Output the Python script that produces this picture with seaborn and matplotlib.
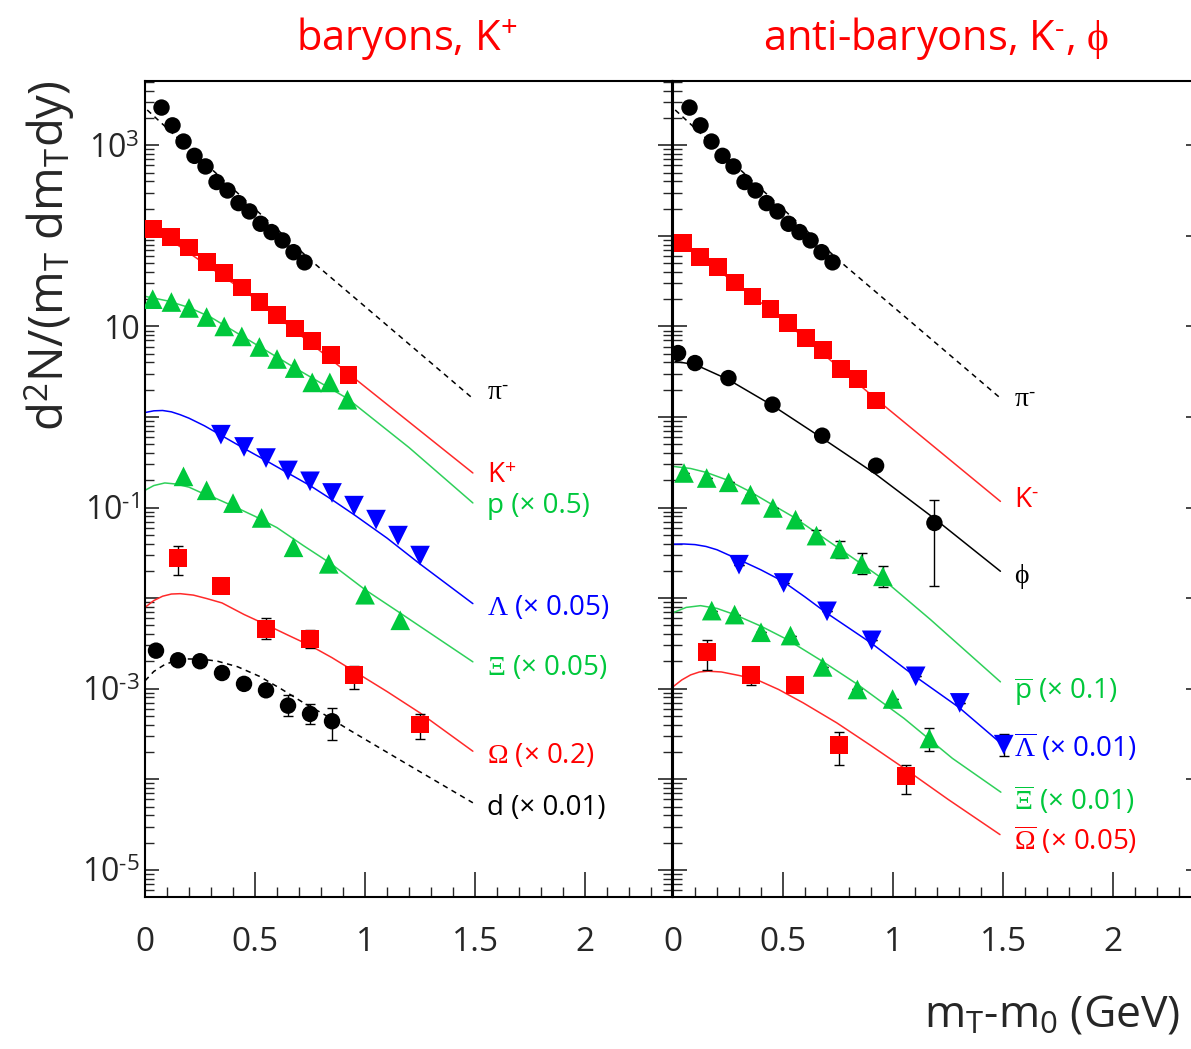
"""Transverse mass spectra: baryons / anti-baryons with blast-wave curves."""

import matplotlib

matplotlib.use("Agg")
import matplotlib.pyplot as plt
import numpy as np
import seaborn as sns
from matplotlib.ticker import (
    FixedLocator,
    FuncFormatter,
    LogLocator,
    MultipleLocator,
    NullFormatter,
)

# --------------------------------------------------------------------------- #
# Data
# --------------------------------------------------------------------------- #

# pi- (same in both panels)
pim_x = [0.075, 0.125, 0.175, 0.225, 0.275, 0.325, 0.375, 0.425, 0.475, 0.525, 0.575, 0.625, 0.675, 0.725]
pim_y = [2610, 1660, 1100, 765, 584, 393, 317, 230, 186, 136, 110, 89, 66, 51]
pim_fit_x = [0.01, 0.76, 1.49]
pim_fit_y = [2455, 52, 1.6]

# left panel
kp_x = [0.035, 0.12, 0.2, 0.28, 0.36, 0.44, 0.52, 0.60, 0.68, 0.76, 0.845, 0.925]
kp_y = [120, 98, 74.5, 52, 38.8, 26.9, 18.6, 13.5, 9.5, 6.95, 4.79, 2.93]
kp_fit_x = [0.03, 0.48, 0.93, 1.49]
kp_fit_y = [125, 22, 2.95, 0.241]

p_x = [0.035, 0.12, 0.2, 0.28, 0.36, 0.44, 0.52, 0.60, 0.68, 0.76, 0.84, 0.92]
p_y = [20, 18.6, 16, 12.7, 10, 7.76, 5.93, 4.37, 3.47, 2.41, 2.41, 1.55]
p_fit_x = [0.0, 0.1, 0.2, 0.3, 0.4, 0.52, 0.68, 0.92, 1.2, 1.49]
p_fit_y = [21.5, 19.2, 16.2, 12.6, 9.0, 6.0, 3.5, 1.6, 0.46, 0.1125]

lam_x = [0.345, 0.45, 0.55, 0.65, 0.75, 0.85, 0.95, 1.05, 1.15, 1.25]
lam_y = [0.638, 0.467, 0.352, 0.257, 0.195, 0.145, 0.105, 0.0736, 0.049, 0.0295]
lam_fit_x = [0.0, 0.04, 0.08, 0.12, 0.16, 0.2, 0.27, 0.35, 0.45, 0.55, 0.65, 0.75, 0.85, 0.95, 1.1, 1.25, 1.49]
lam_fit_y = [1.12, 1.17, 1.18, 1.14, 1.06, 0.97, 0.8, 0.62, 0.45, 0.33, 0.24, 0.175, 0.122, 0.0835, 0.046,
             0.0238, 0.0087]

xi_x = [0.175, 0.28, 0.4, 0.53, 0.675, 0.835, 1.0, 1.16]
xi_y = [0.221, 0.155, 0.112, 0.0768, 0.0364, 0.0239, 0.0109, 0.00569]
xi_fit_x = [0.0, 0.04, 0.09, 0.14, 0.2, 0.25, 0.32, 0.4, 0.5, 0.6, 0.72, 0.84, 1.0, 1.15, 1.49]
xi_fit_y = [0.155, 0.175, 0.187, 0.182, 0.168, 0.148, 0.127, 0.104, 0.08, 0.06, 0.038, 0.0245, 0.0124,
            0.0071, 0.00198]

om_x = [0.15, 0.345, 0.55, 0.75, 0.95, 1.25]
om_y = [0.0278, 0.01374, 0.0046, 0.00355, 0.00141, 0.000402]
om_lo = [0.0178, 0.0128, 0.0035, 0.0028, 0.000995, 0.000279]
om_hi = [0.038, 0.0148, 0.006, 0.0044, 0.0018, 0.00052]
om_fit_x = [0.0, 0.04, 0.08, 0.12, 0.16, 0.22, 0.28, 0.35, 0.45, 0.55, 0.65, 0.75, 0.85, 0.95, 1.1, 1.25, 1.49]
om_fit_y = [0.0079, 0.0094, 0.0105, 0.0111, 0.0112, 0.0108, 0.0099, 0.00885, 0.0066, 0.0051, 0.0039,
            0.0030, 0.0022, 0.00156, 0.00093, 0.00054, 0.000204]

d_x = [0.05, 0.15, 0.25, 0.35, 0.45, 0.55, 0.65, 0.75, 0.85]
d_y = [0.00263, 0.00206, 0.00201, 0.00149, 0.00113, 0.00096, 0.00065, 0.000527, 0.000437]
d_lo = [0.00263, 0.00206, 0.00201, 0.00149, 0.00113, 0.00096, 0.000495, 0.000412, 0.000274]
d_hi = [0.00263, 0.00206, 0.00201, 0.00149, 0.00113, 0.00096, 0.00085, 0.00067, 0.000614]
d_fit_x = [0.0, 0.04, 0.09, 0.14, 0.19, 0.26, 0.33, 0.42, 0.52, 0.62, 0.72, 0.82, 0.92, 1.21, 1.49]
d_fit_y = [0.00122, 0.00155, 0.00185, 0.00204, 0.00213, 0.00212, 0.00201, 0.00175, 0.00137, 0.00099,
           0.0007, 0.00051, 0.00036, 0.000138, 5.5e-5]

# right panel
km_x = [0.045, 0.123, 0.203, 0.283, 0.361, 0.443, 0.523, 0.603, 0.683, 0.765, 0.841, 0.923]
km_y = [83.3, 58.4, 45.3, 30.6, 21.4, 15.6, 10.9, 7.45, 5.53, 3.39, 2.63, 1.52]
km_fit_x = [0.03, 0.48, 0.92, 1.488]
km_fit_y = [88, 13, 1.6, 0.117]

phi_x = [0.023, 0.1, 0.252, 0.452, 0.678, 0.923, 1.188]
phi_y = [5.08, 3.94, 2.69, 1.37, 0.622, 0.29, 0.0676]
phi_lo = [5.08, 3.94, 2.69, 1.37, 0.622, 0.29, 0.0135]
phi_hi = [5.08, 3.94, 2.69, 1.37, 0.622, 0.29, 0.12]
phi_fit_x = [0.01, 0.1, 0.25, 0.45, 0.68, 0.92, 1.19, 1.488]
phi_fit_y = [4.1, 3.8, 2.6, 1.35, 0.58, 0.235, 0.075, 0.0198]

pbar_x = [0.05, 0.153, 0.253, 0.352, 0.454, 0.557, 0.652, 0.757, 0.857, 0.954]
pbar_y = [0.241, 0.212, 0.19, 0.139, 0.099, 0.0735, 0.049, 0.0349, 0.0238, 0.0174]
pbar_lo = [0.241, 0.212, 0.19, 0.139, 0.099, 0.0735, 0.0407, 0.0278, 0.0186, 0.0133]
pbar_hi = [0.241, 0.212, 0.19, 0.139, 0.099, 0.0735, 0.057, 0.043, 0.0316, 0.0229]
pbar_fit_x = [0.0, 0.08, 0.15, 0.25, 0.35, 0.45, 0.55, 0.65, 0.75, 0.85, 0.95, 1.17, 1.488]
pbar_fit_y = [0.285, 0.27, 0.245, 0.2, 0.15, 0.108, 0.078, 0.053, 0.036, 0.0245, 0.0165, 0.0058, 0.00119]

lbar_x = [0.3, 0.503, 0.7, 0.903, 1.103, 1.303, 1.503]
lbar_y = [0.0234, 0.0147, 0.00715, 0.00342, 0.00137, 0.000697, 0.000241]
lbar_lo = [0.0234, 0.0147, 0.00715, 0.00342, 0.00137, 0.000697, 0.00018]
lbar_hi = [0.0234, 0.0147, 0.00715, 0.00342, 0.00137, 0.000697, 0.00032]
lbar_fit_x = [0.0, 0.05, 0.1, 0.15, 0.2, 0.3, 0.4, 0.5, 0.6, 0.7, 0.9, 1.1, 1.3, 1.488]
lbar_fit_y = [0.0394, 0.0396, 0.039, 0.0372, 0.0342, 0.0266, 0.0205, 0.0153, 0.0103, 0.0068, 0.0032,
              0.00137, 0.00062, 0.000252]

xbar_x = [0.176, 0.28, 0.4, 0.534, 0.68, 0.838, 0.998, 1.165]
xbar_y = [0.00728, 0.00658, 0.0042, 0.00386, 0.00174, 0.00098, 0.00077, 0.000282]
xbar_lo = [0.00728, 0.00658, 0.0042, 0.00386, 0.00174, 0.00098, 0.00077, 0.000204]
xbar_hi = [0.00728, 0.00658, 0.0042, 0.00386, 0.00174, 0.00098, 0.00077, 0.000369]
xbar_fit_x = [0.0, 0.06, 0.125, 0.2, 0.28, 0.4, 0.52, 0.68, 0.84, 1.05, 1.27, 1.49]
xbar_fit_y = [0.0069, 0.0079, 0.00826, 0.0077, 0.00658, 0.0049, 0.00348, 0.002, 0.00111, 0.00047,
              0.00017, 7.2e-5]

obar_x = [0.153, 0.355, 0.555, 0.756, 1.059]
obar_y = [0.00252, 0.00141, 0.00109, 0.000237, 0.000108]
obar_lo = [0.00162, 0.00109, 0.00109, 0.000142, 6.8e-5]
obar_hi = [0.00342, 0.00165, 0.00109, 0.000333, 0.000145]
obar_fit_x = [0.0, 0.04, 0.08, 0.12, 0.16, 0.22, 0.3, 0.38, 0.48, 0.592, 0.744, 0.9, 1.047, 1.25, 1.486]
obar_fit_y = [0.00105, 0.00125, 0.00142, 0.00153, 0.00156, 0.00153, 0.0014, 0.00126, 0.00098, 0.000697,
              0.00042, 0.000235, 0.000134, 6e-5, 2.45e-5]

# --------------------------------------------------------------------------- #
# Style
# --------------------------------------------------------------------------- #

RED = "#ff0000"
RED_LINE = "#ff2a2a"
GREEN = "#00c83c"
GREEN_LINE = "#2fd05a"
BLUE = "#0000ff"
BLACK = "#000000"
DASH = (0, (3.5, 3))
HY = "\u2010"  # short hyphen used as superscript minus

sns.set_theme(style="ticks")
plt.rcParams["font.family"] = ["Open Sans", "DejaVu Sans"]
plt.rcParams["mathtext.fontset"] = "custom"
plt.rcParams["mathtext.rm"] = "Liberation Serif"
plt.rcParams["mathtext.it"] = "Liberation Serif:italic"
plt.rcParams["mathtext.sf"] = "Open Sans"
plt.rcParams["axes.linewidth"] = 1.5

fig = plt.figure(figsize=(11.91, 10.49), dpi=100)
W, H = 1191, 1049
ax_l = fig.add_axes([145 / W, 1 - 897 / H, 527 / W, 816 / H])
ax_r = fig.add_axes([673 / W, 1 - 897 / H, 527 / W, 816 / H])


def _ylabel_fmt(v, _pos):
    k = int(round(np.log10(v)))
    if k % 2 == 0:
        return ""
    if k == 1:
        return "10"
    exp = str(k).replace("-", HY)
    return r"10$^{\mathsf{%s}}$" % exp


def _style_axis(ax, show_ylabels):
    ax.set_yscale("log")
    ax.set_xlim(0, 2.395)
    ax.set_ylim(10 ** -5.30, 10 ** 3.71)
    ax.yaxis.set_major_locator(FixedLocator([10.0 ** k for k in range(-5, 4)]))
    ax.yaxis.set_minor_locator(LogLocator(base=10, subs=np.arange(2, 10) * 1.0, numticks=40))
    ax.yaxis.set_minor_formatter(NullFormatter())
    ax.yaxis.set_major_formatter(FuncFormatter(_ylabel_fmt))
    ax.xaxis.set_major_locator(MultipleLocator(0.5))
    ax.xaxis.set_minor_locator(MultipleLocator(0.1))
    ax.xaxis.set_major_formatter(FuncFormatter(lambda v, _p: "%g" % v))
    ax.tick_params(axis="y", which="major", direction="in", length=10, width=1.2,
                   left=True, right=True, labelsize=23, pad=4, labelleft=show_ylabels)
    ax.tick_params(axis="y", which="minor", direction="in", length=6.5, width=1.0,
                   left=True, right=True)
    ax.tick_params(axis="x", which="major", direction="in", length=18, width=1.2,
                   bottom=True, top=False, labelsize=24, pad=21)
    ax.tick_params(axis="x", which="minor", direction="in", length=7.5, width=1.0,
                   bottom=True, top=False)
    for sp in ax.spines.values():
        sp.set_visible(True)
        sp.set_color(BLACK)
        sp.set_linewidth(1.5)
    ax.set_xlabel("")
    ax.set_ylabel("")


def _curve(ax, xs, ys, color, ls="-"):
    sns.lineplot(x=xs, y=ys, ax=ax, color=color, linewidth=1.1, linestyle=ls,
                 sort=False, legend=False, zorder=2)


def _points(ax, xs, ys, color, marker, size=140):
    sns.scatterplot(x=xs, y=ys, ax=ax, color=color, marker=marker, s=size,
                    linewidth=0, edgecolor="none", legend=False, zorder=4)


def _errors(ax, xs, ys, lo, hi):
    ys = np.asarray(ys)
    yerr = [ys - np.asarray(lo), np.asarray(hi) - ys]
    ax.errorbar(xs, ys, yerr=yerr, fmt="none", ecolor=BLACK, elinewidth=1.0,
                capsize=3.5, capthick=1.0, zorder=3)


CIRC, SQR, TRI = 140, 165, 200

# --------------------------------------------------------------------------- #
# Left panel: baryons, K+
# --------------------------------------------------------------------------- #

_style_axis(ax_l, True)
_curve(ax_l, pim_fit_x, pim_fit_y, BLACK, DASH)
_curve(ax_l, kp_fit_x, kp_fit_y, RED_LINE)
_curve(ax_l, p_fit_x, p_fit_y, GREEN_LINE)
_curve(ax_l, lam_fit_x, lam_fit_y, BLUE)
_curve(ax_l, xi_fit_x, xi_fit_y, GREEN_LINE)
_curve(ax_l, om_fit_x, om_fit_y, RED_LINE)
_curve(ax_l, d_fit_x, d_fit_y, BLACK, DASH)

_errors(ax_l, om_x, om_y, om_lo, om_hi)
_errors(ax_l, d_x, d_y, d_lo, d_hi)

_points(ax_l, pim_x, pim_y, BLACK, "o", CIRC)
_points(ax_l, kp_x, kp_y, RED, "s", SQR)
_points(ax_l, p_x, p_y, GREEN, "^", TRI)
_points(ax_l, lam_x, lam_y, BLUE, "v", TRI)
_points(ax_l, xi_x, xi_y, GREEN, "^", TRI)
_points(ax_l, om_x, om_y, RED, "s", SQR)
_points(ax_l, d_x, d_y, BLACK, "o", CIRC)

LX = 1.555
for txt, yv, col in [
    (r"$\mathrm{\pi}^{\mathsf{%s}}$" % HY, 1.55, BLACK),
    (r"K$^{\mathsf{+}}$", 0.188, RED),
    (r"p (× 0.5)", 0.0879, GREEN),
    (r"$\Lambda$ (× 0.05)", 0.00657, BLUE),
    (r"$\Xi$ (× 0.05)", 0.00143, GREEN),
    (r"$\Omega$ (× 0.2)", 0.000153, RED),
    (r"d (× 0.01)", 4.07e-5, BLACK),
]:
    ax_l.text(LX, yv, txt, color=col, fontsize=20, ha="left", va="baseline")

# --------------------------------------------------------------------------- #
# Right panel: anti-baryons, K-, phi
# --------------------------------------------------------------------------- #

_style_axis(ax_r, False)
_curve(ax_r, pim_fit_x, pim_fit_y, BLACK, DASH)
_curve(ax_r, km_fit_x, km_fit_y, RED_LINE)
_curve(ax_r, phi_fit_x, phi_fit_y, BLACK)
_curve(ax_r, pbar_fit_x, pbar_fit_y, GREEN_LINE)
_curve(ax_r, lbar_fit_x, lbar_fit_y, BLUE)
_curve(ax_r, xbar_fit_x, xbar_fit_y, GREEN_LINE)
_curve(ax_r, obar_fit_x, obar_fit_y, RED_LINE)

_errors(ax_r, phi_x, phi_y, phi_lo, phi_hi)
_errors(ax_r, pbar_x, pbar_y, pbar_lo, pbar_hi)
_errors(ax_r, lbar_x, lbar_y, lbar_lo, lbar_hi)
_errors(ax_r, xbar_x, xbar_y, xbar_lo, xbar_hi)
_errors(ax_r, obar_x, obar_y, obar_lo, obar_hi)

_points(ax_r, pim_x, pim_y, BLACK, "o", CIRC)
_points(ax_r, km_x, km_y, RED, "s", SQR)
_points(ax_r, phi_x, phi_y, BLACK, "o", CIRC)
_points(ax_r, pbar_x, pbar_y, GREEN, "^", TRI)
_points(ax_r, lbar_x, lbar_y, BLUE, "v", TRI)
_points(ax_r, xbar_x, xbar_y, GREEN, "^", TRI)
_points(ax_r, obar_x, obar_y, RED, "s", SQR)

RX = 1.55
for txt, yv, col in [
    (r"$\mathrm{\pi}^{\mathsf{%s}}$" % HY, 1.3, BLACK),
    (r"K$^{\mathsf{%s}}$" % HY, 0.102, RED),
    (r"$\mathrm{\phi}$", 0.0148, BLACK),
    (r"$\overline{\mathsf{p}}$ (× 0.1)", 0.00076, GREEN),
    (r"$\overline{\Lambda}$ (× 0.01)", 0.000174, BLUE),
    (r"$\overline{\Xi}$ (× 0.01)", 4.63e-5, GREEN),
    (r"$\overline{\Omega}$ (× 0.05)", 1.67e-5, RED),
]:
    ax_r.text(RX, yv, txt, color=col, fontsize=20, ha="left", va="baseline")

# --------------------------------------------------------------------------- #
# Titles and axis labels
# --------------------------------------------------------------------------- #

fig.text(407 / W, 1 - 50 / H, r"baryons, K$^{\mathsf{+}}$", color=RED,
         fontsize=30, ha="center", va="baseline")
fig.text(936 / W, 1 - 50 / H, r"anti-baryons, K$^{\mathsf{%s}}$, $\mathrm{\phi}$" % HY, color=RED,
         fontsize=30, ha="center", va="baseline")
fig.text(50 / W, 1 - 80 / H, r"d$^{\mathsf{2}}$N/(m$_{\mathsf{T}}$ dm$_{\mathsf{T}}$dy)",
         fontsize=34, rotation=90, ha="center", va="top")
fig.text(1180 / W, 1 - 1027 / H, r"m$_{\mathsf{T}}$-m$_{\mathsf{0}}$ (GeV)",
         fontsize=32, ha="right", va="baseline")

fig.savefig("out.png", dpi=100)
plt.close(fig)
